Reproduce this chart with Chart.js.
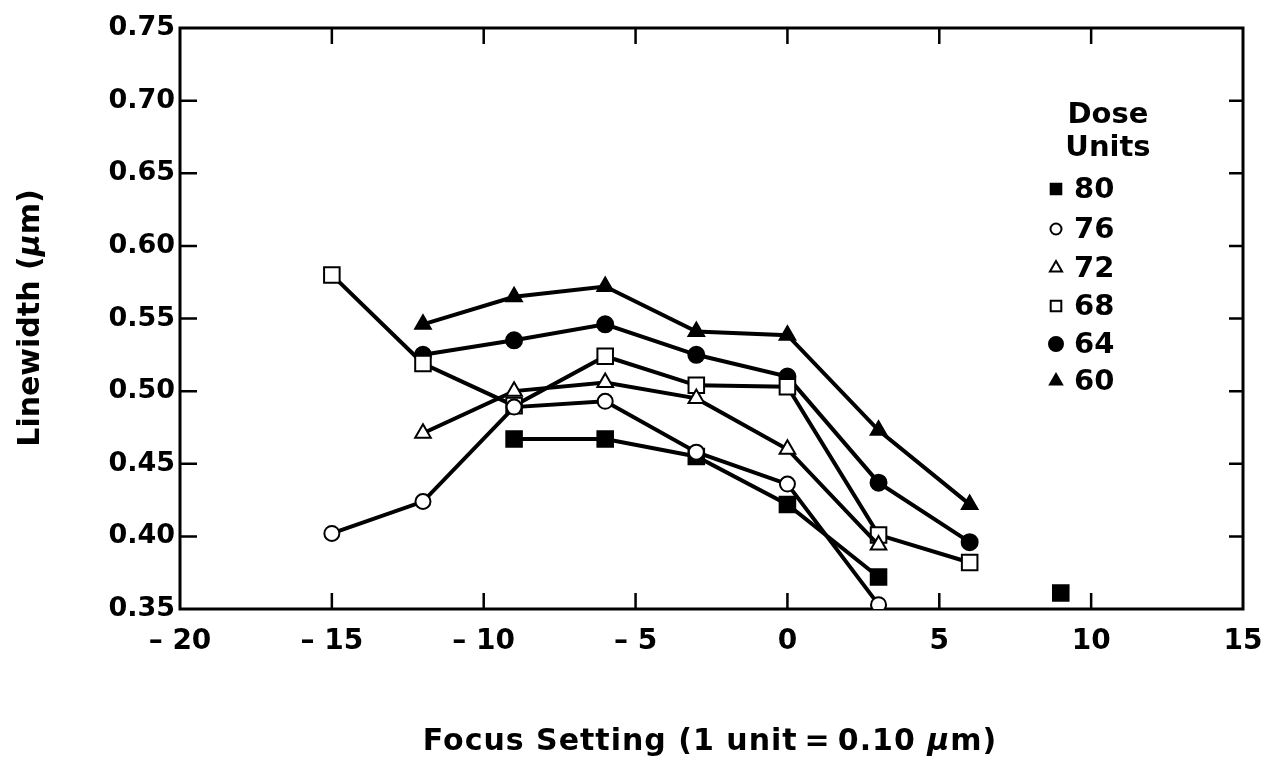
<!DOCTYPE html>
<html>
<head>
<meta charset="utf-8">
<script src="https://cdn.jsdelivr.net/npm/chart.js@4/dist/chart.umd.min.js"></script>
<style>
  body { margin: 0; background: #fff; }
  #wrap { width: 1266px; height: 759px; }
</style>
</head>
<body>
<div id="wrap"><canvas id="focusChart" width="1266" height="759"></canvas></div>
<script>
// focus settings (1 unit = 0.10 um)
const focus = [-15, -12, -9, -6, -3, 0, 3, 6, 9];

// linewidth (um) per dose
const dose80 = [null, null, 0.467, 0.467, 0.455, 0.422, 0.372, null, 0.361];
const dose76 = [0.402, 0.424, 0.489, 0.493, 0.458, 0.436, 0.353, null, null];
const dose72 = [null, 0.471, 0.500, 0.506, 0.495, 0.460, 0.394, null, null];
const dose68 = [0.580, 0.519, 0.490, 0.524, 0.504, 0.503, 0.401, 0.382, null];
const dose64 = [null, 0.525, 0.535, 0.546, 0.525, 0.510, 0.437, 0.396, null];
const dose60 = [null, 0.546, 0.565, 0.572, 0.541, 0.5385, 0.473, 0.422, null];

const doseLabels = ['80', '76', '72', '68', '64', '60'];
const xTicks = [-15, -10, -5, 0, 5, 10];
const yTicks = [0.40, 0.45, 0.50, 0.55, 0.60, 0.65, 0.70];

const FONT = '"DejaVu Sans", "Liberation Sans", Arial, sans-serif';

function toPoints(vals) {
    return focus.map((f, i) => ({ x: f, y: vals[i] }));
}

function makeSet(label, vals, style, filled, radius, legendRadius) {
    return {
        label: label,
        data: toPoints(vals),
        borderColor: '#000',
        borderWidth: 4,
        pointStyle: style,
        pointRadius: radius,
        pointBorderWidth: 2,
        pointBorderColor: '#000',
        pointBackgroundColor: filled ? '#000' : '#fff',
        legendRadius: legendRadius,
        spanGaps: false,
        tension: 0
    };
}

const datasets = [
    makeSet('76', dose76, 'circle', false, 7.5, 5.5),
    makeSet('80', dose80, 'rect', true, 11, 7.5),
    makeSet('72', dose72, 'triangle', false, 9, 7),
    makeSet('68', dose68, 'rect', false, 11, 7.5),
    makeSet('64', dose64, 'circle', true, 8, 7),
    makeSet('60', dose60, 'triangle', true, 9, 7)
];

// box, inward ticks, axis titles and legend
const decorPlugin = {
    id: 'decor',
    beforeDatasetsDraw(chart) {
        const ctx = chart.ctx;
        const a = chart.chartArea;
        const xs = chart.scales.x, ys = chart.scales.y;
        ctx.save();
        ctx.strokeStyle = '#000';
        ctx.lineWidth = 3;
        ctx.strokeRect(a.left, a.top, a.right - a.left, a.bottom - a.top);
        ctx.lineWidth = 2.5;
        ctx.beginPath();
        xTicks.forEach(v => {
            const px = xs.getPixelForValue(v);
            ctx.moveTo(px, a.bottom); ctx.lineTo(px, a.bottom - 16);
            ctx.moveTo(px, a.top); ctx.lineTo(px, a.top + 16);
        });
        yTicks.forEach(v => {
            const py = ys.getPixelForValue(v);
            ctx.moveTo(a.left, py); ctx.lineTo(a.left + 17, py);
            ctx.moveTo(a.right, py); ctx.lineTo(a.right - 14, py);
        });
        ctx.stroke();
        ctx.restore();
    },
    afterDraw(chart) {
        const ctx = chart.ctx;
        ctx.save();
        ctx.fillStyle = '#000';
        ctx.textBaseline = 'middle';

        // x title with italic mu
        ctx.letterSpacing = '1px';
        drawMixed(ctx, [
            ['bold 30px ' + FONT, 'Focus Setting (1 unit\u2009=\u20090.10 '],
            ['italic bold 30px ' + FONT, '\u03bc'],
            ['bold 30px ' + FONT, 'm)']
        ], 710, 742);
        ctx.letterSpacing = '0px';

        // y title, rotated
        ctx.save();
        ctx.translate(31, 318);
        ctx.rotate(-Math.PI / 2);
        drawMixed(ctx, [
            ['bold 30px ' + FONT, 'Linewidth ('],
            ['italic bold 30px ' + FONT, '\u03bc'],
            ['bold 30px ' + FONT, 'm)']
        ], 0, 0);
        ctx.restore();

        // legend
        ctx.textAlign = 'center';
        ctx.font = 'bold 29px ' + FONT;
        ctx.fillText('Dose', 1108, 115);
        ctx.fillText('Units', 1108, 148);
        const rowY = [189, 229, 268, 306, 344, 381];
        ctx.textAlign = 'left';
        doseLabels.forEach((lab, i) => {
            const ds = chart.data.datasets.find(d => d.label === lab);
            ctx.fillStyle = ds.pointBackgroundColor;
            ctx.strokeStyle = '#000';
            ctx.lineWidth = 2;
            Chart.helpers.drawPoint(ctx, {
                pointStyle: ds.pointStyle,
                radius: ds.legendRadius,
                rotation: 0,
                borderWidth: 2
            }, 1056, rowY[i]);
            ctx.fillStyle = '#000';
            ctx.font = 'bold 29px ' + FONT;
            ctx.fillText(lab, 1074, rowY[i] + 1);
        });
        ctx.restore();
    }
};

function drawMixed(ctx, parts, cx, cy) {
    let total = 0;
    parts.forEach(p => { ctx.font = p[0]; total += ctx.measureText(p[1]).width; });
    let x = cx - total / 2;
    ctx.textAlign = 'left';
    parts.forEach(p => {
        ctx.font = p[0];
        ctx.fillText(p[1], x, cy);
        x += ctx.measureText(p[1]).width;
    });
}

new Chart(document.getElementById('focusChart'), {
    type: 'line',
    data: { datasets: datasets },
    options: {
        responsive: false,
        animation: false,
        layout: { padding: { left: 0, top: 28, right: 23, bottom: 0 } },
        plugins: {
            legend: { display: false },
            tooltip: { enabled: false }
        },
        scales: {
            x: {
                type: 'linear',
                min: -20,
                max: 15,
                afterFit: s => { s.height = 150; s.paddingLeft = 0; s.paddingRight = 0; },
                grid: { display: false, drawTicks: false },
                border: { display: false },
                ticks: {
                    stepSize: 5,
                    padding: 16,
                    color: '#000',
                    font: { family: FONT, size: 28, weight: 'bold' },
                    callback: v => v < 0 ? '\u2013 ' + Math.abs(v) : String(v)
                }
            },
            y: {
                min: 0.35,
                max: 0.75,
                afterFit: s => { s.width = 180; s.paddingTop = 0; s.paddingBottom = 0; },
                grid: { display: false, drawTicks: false },
                border: { display: false },
                ticks: {
                    stepSize: 0.05,
                    padding: 5,
                    color: '#000',
                    font: { family: FONT, size: 27, weight: 'bold' },
                    callback: v => v.toFixed(2)
                }
            }
        }
    },
    plugins: [decorPlugin]
});
</script>
</body>
</html>
